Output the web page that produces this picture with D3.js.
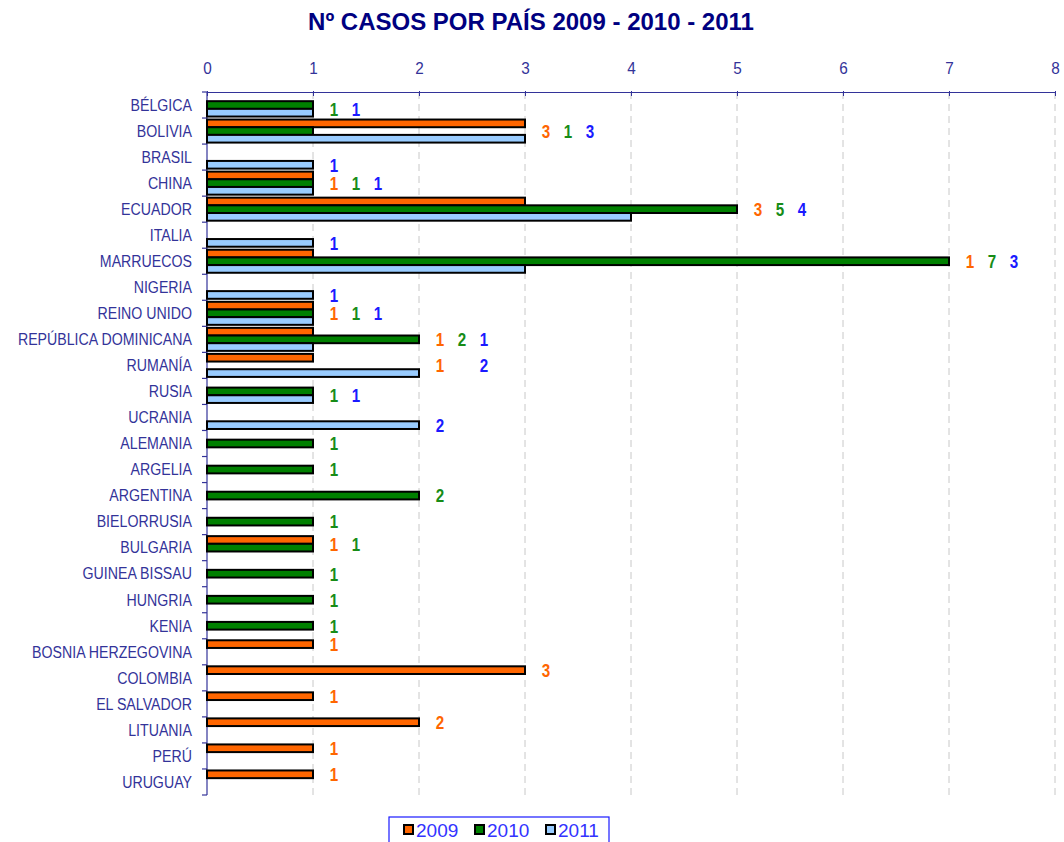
<!DOCTYPE html>
<html>
<head>
<meta charset="utf-8">
<script src="https://cdn.jsdelivr.net/npm/d3@7"></script>
<style>
  body { margin: 0; background: #fff; }
  svg { font-family: "Liberation Sans", Arial, sans-serif; }
</style>
</head>
<body>
<script>
// countries, top to bottom
let countries = ["BÉLGICA", "BOLIVIA", "BRASIL", "CHINA", "ECUADOR", "ITALIA", "MARRUECOS",
  "NIGERIA", "REINO UNIDO", "REPÚBLICA DOMINICANA", "RUMANÍA", "RUSIA", "UCRANIA",
  "ALEMANIA", "ARGELIA", "ARGENTINA", "BIELORRUSIA", "BULGARIA", "GUINEA BISSAU",
  "HUNGRIA", "KENIA", "BOSNIA HERZEGOVINA", "COLOMBIA", "EL SALVADOR", "LITUANIA",
  "PERÚ", "URUGUAY"];

let years = ["2009", "2010", "2011"];

// cases per year (0 = no bar)
let cases2009 = [0, 3, 0, 1, 3, 0, 1, 0, 1, 1, 1, 0, 0, 0, 0, 0, 0, 1, 0, 0, 0, 1, 3, 1, 2, 1, 1];
let cases2010 = [1, 1, 0, 1, 5, 0, 7, 0, 1, 2, 0, 1, 0, 1, 1, 2, 1, 1, 1, 1, 1, 0, 0, 0, 0, 0, 0];
let cases2011 = [1, 3, 1, 1, 4, 1, 3, 1, 1, 1, 2, 1, 2, 0, 0, 0, 0, 0, 0, 0, 0, 0, 0, 0, 0, 0, 0];

let xTicks = [0, 1, 2, 3, 4, 5, 6, 7, 8];

let series = [cases2009, cases2010, cases2011];
let fills = ["#FF6600", "#008000", "#99CCFF"];
let labelColors = ["#FF6600", "#178C17", "#1A1AFF"];
let axisColor = "#333399";

let width = 1064, height = 842;
let margin = {left: 207, right: 9, top: 92, bottom: 47};

let svg = d3.select("body").append("svg")
  .attr("width", width).attr("height", height);

// scales
let x = d3.scaleLinear().domain([0, 8]).range([margin.left, width - margin.right]);
let y = d3.scaleBand().domain(countries).range([margin.top, height - margin.bottom]);
let inner = d3.scaleBand().domain(years).range([1.5, y.bandwidth() - 1.5]);

// title
svg.append("text")
  .attr("x", 531).attr("y", 30)
  .attr("text-anchor", "middle")
  .attr("font-size", 24).attr("font-weight", "bold")
  .attr("fill", "#000080")
  .text("Nº CASOS POR PAÍS 2009 - 2010 - 2011");

// gridlines
svg.append("g")
  .selectAll("line")
  .data(xTicks.filter(d => d > 0))
  .join("line")
  .attr("x1", d => x(d)).attr("x2", d => x(d))
  .attr("y1", margin.top).attr("y2", height - margin.bottom)
  .attr("stroke", "#c8c8c8").attr("stroke-width", 1)
  .attr("stroke-dasharray", "7,5");

// top axis
let xAxis = svg.append("g")
  .attr("transform", "translate(0," + margin.top + ")")
  .call(d3.axisTop(x).tickValues(xTicks).tickSize(-5).tickSizeOuter(0).tickPadding(18));
xAxis.select(".domain").attr("stroke", axisColor).attr("stroke-width", 1.2);
xAxis.selectAll(".tick line").attr("stroke", axisColor).attr("transform", "translate(0,-1)");
xAxis.selectAll(".tick text").attr("fill", axisColor).attr("font-size", 17)
  .attr("font-family", "Liberation Sans, Arial, sans-serif")
  .attr("transform", "scale(0.9,1)");

// left axis (ticks on band edges)
let yAxisG = svg.append("g");
yAxisG.append("line")
  .attr("x1", margin.left).attr("x2", margin.left)
  .attr("y1", margin.top).attr("y2", height - margin.bottom)
  .attr("stroke", axisColor).attr("stroke-width", 1.2);
let edges = countries.map(c => y(c)).concat([y.range()[1]]);
yAxisG.selectAll(".edge")
  .data(edges)
  .join("line")
  .attr("class", "edge")
  .attr("x1", margin.left - 5).attr("x2", margin.left)
  .attr("y1", d => d).attr("y2", d => d)
  .attr("stroke", axisColor).attr("stroke-width", 1.2);
yAxisG.selectAll(".lab")
  .data(countries)
  .join("text")
  .attr("class", "lab")
  .attr("transform", d => "translate(192," + (y(d) + y.bandwidth() / 2) + ") scale(0.86,1)")
  .attr("dy", "0.35em")
  .attr("text-anchor", "end")
  .attr("font-size", 16.5)
  .attr("fill", axisColor)
  .text(d => d);

// bars
let rows = countries.map((c, i) => ({
  country: c,
  vals: series.map(s => s[i])
}));

series.forEach((s, k) => {
  svg.append("g")
    .selectAll("rect")
    .data(rows.filter(r => r.vals[k] > 0))
    .join("rect")
    .attr("x", x(0))
    .attr("y", r => y(r.country) + inner(years[k]))
    .attr("width", r => x(r.vals[k]) - x(0))
    .attr("height", inner.bandwidth())
    .attr("fill", fills[k])
    .attr("stroke", "#000").attr("stroke-width", 2);
});

// value labels, in a row after the longest bar of each country
let labels = [];
rows.forEach(r => {
  let present = [];
  r.vals.forEach((v, k) => { if (v > 0) present.push(k); });
  let maxV = d3.max(r.vals);
  let cy = d3.mean(present, k => y(r.country) + inner(years[k]) + inner.bandwidth() / 2);
  present.forEach(k => {
    let slot = k - present[0];
    labels.push({x: x(maxV) + 21 + slot * 22, y: cy, k: k, v: r.vals[k]});
  });
});

svg.append("g")
  .selectAll("text")
  .data(labels)
  .join("text")
  .attr("transform", d => "translate(" + d.x + "," + d.y + ") scale(0.8,1)")
  .attr("dy", "0.36em")
  .attr("text-anchor", "middle")
  .attr("font-size", 19).attr("font-weight", "bold")
  .attr("fill", d => labelColors[d.k])
  .text(d => d.v);

// legend
let legend = svg.append("g").attr("transform", "translate(389,817)");
legend.append("rect")
  .attr("width", 220).attr("height", 30)
  .attr("fill", "#fff").attr("stroke", "#1A1AFF").attr("stroke-width", 1.2);
years.forEach((yr, k) => {
  let g = legend.append("g").attr("transform", "translate(" + (15 + k * 71) + ",0)");
  g.append("rect")
    .attr("x", 0).attr("y", 8).attr("width", 9).attr("height", 9)
    .attr("fill", fills[k]).attr("stroke", "#000").attr("stroke-width", 2);
  g.append("text")
    .attr("x", 12).attr("y", 20)
    .attr("font-size", 19)
    .attr("fill", "#3333FF")
    .text(yr);
});
</script>
</body>
</html>
